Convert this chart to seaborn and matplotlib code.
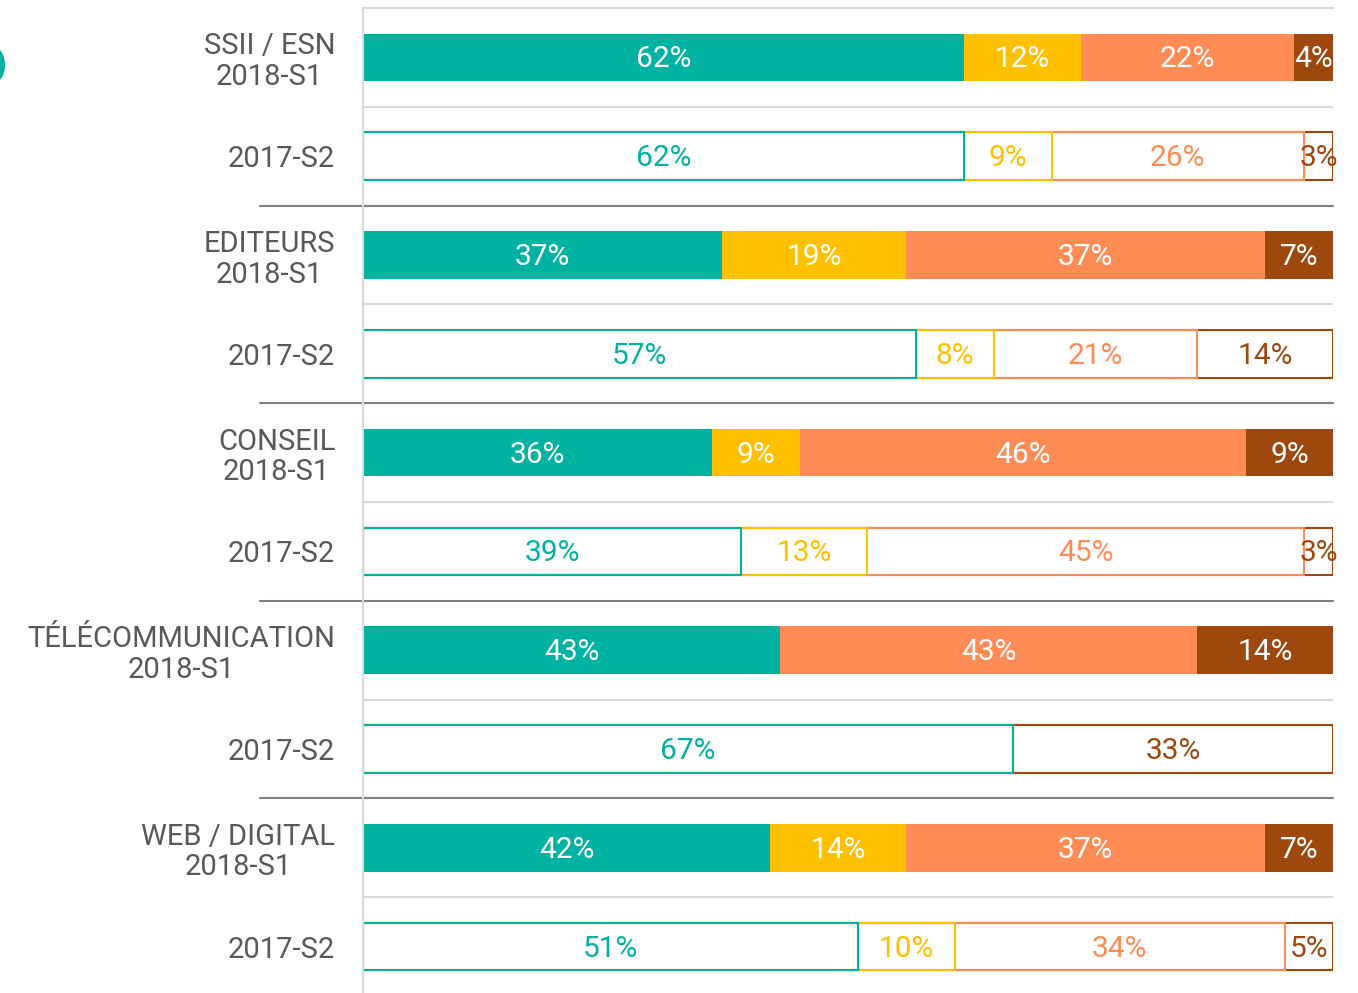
import numpy as np
import pandas as pd
import matplotlib
matplotlib.use("Agg")
import matplotlib.pyplot as plt
import seaborn as sns

# ---- data ----
groups = ["SSII / ESN", "EDITEURS", "CONSEIL", "TÉLÉCOMMUNICATION", "WEB / DIGITAL"]
periods = ["2018-S1", "2017-S2"]
series_names = ["teal", "yellow", "orange", "brown"]
teal_vals = [62, 62, 37, 57, 36, 39, 43, 67, 42, 51]
yellow_vals = [12, 9, 19, 8, 9, 13, 0, 0, 14, 10]
orange_vals = [22, 26, 37, 21, 46, 45, 43, 0, 37, 34]
brown_vals = [4, 3, 7, 14, 9, 3, 14, 33, 7, 5]

colors = ["#00B2A1", "#FFC000", "#FF8C55", "#9E480E"]

rows = []
labels = []
for gi, g in enumerate(groups):
    for pi, p in enumerate(periods):
        i = gi * 2 + pi
        rows.append(dict(row=f"r{i}", period=p, teal=teal_vals[i], yellow=yellow_vals[i],
                         orange=orange_vals[i], brown=brown_vals[i]))
        labels.append(f"{g}\n{p}" if p == "2018-S1" else p)
df = pd.DataFrame(rows)
cum = df[series_names].cumsum(axis=1)
for s in series_names:
    df["cum_" + s] = cum[s]
row_ids = list(df["row"])

sns.set_theme(style="white")
plt.rcParams['font.family'] = ['Roboto', 'DejaVu Sans']

fig = plt.figure(figsize=(13.58, 9.93), dpi=100)
ax = fig.add_axes([363 / 1358, 1 - 996 / 993, 970 / 1358, 988 / 993])

d_new = df[df["period"] == "2018-S1"]
d_old = df[df["period"] == "2017-S2"]
for s, c in reversed(list(zip(series_names, colors))):
    sns.barplot(data=d_new, x="cum_" + s, y="row", order=row_ids, orient="h",
                color=c, saturation=1, width=0.48, linewidth=0, ax=ax)
    sns.barplot(data=d_old, x="cum_" + s, y="row", order=row_ids, orient="h",
                color=c, saturation=1, width=0.48, fill=False, linewidth=1.5, ax=ax)

# value labels
for i, r in df.iterrows():
    left = 0
    for s, c in zip(series_names, colors):
        v = r[s]
        if v > 0:
            tc = "white" if r["period"] == "2018-S1" else c
            ax.text(left + v / 2, i + 0.02, f"{v}%", ha="center", va="center",
                    fontsize=21.5, color=tc)
        left += v

ax.set_xlim(0, 100)
ax.set_ylim(9.5, -0.5)
ax.set_xticks([])
ax.set_xlabel("")
ax.set_ylabel("")
ax.set_yticks(range(len(labels)))
ax.set_yticklabels(labels, fontsize=21, color="#595959", multialignment="center",
                   linespacing=1.12)
ax.tick_params(axis="y", length=0, pad=20)

for sp in ["right", "bottom"]:
    ax.spines[sp].set_visible(False)
for sp in ["left", "top"]:
    ax.spines[sp].set_color("#D9D9D9")
    ax.spines[sp].set_linewidth(1.5)

trans = ax.get_yaxis_transform()
for y in [0.5, 2.5, 4.5, 6.5, 8.5]:
    ax.plot([0, 1], [y, y], transform=trans, color="#D9D9D9", lw=1.5, zorder=0)
for y in [1.5, 3.5, 5.5, 7.5]:
    ax.plot([-0.106, 1], [y, y], transform=trans, color="#7F7F7F", lw=1.5,
            clip_on=False, zorder=0)

fig.text(9 / 1358, 1 - 61 / 993, "6", ha="right", va="center", fontsize=63,
         color=colors[0])

fig.savefig("out.png", dpi=100)
